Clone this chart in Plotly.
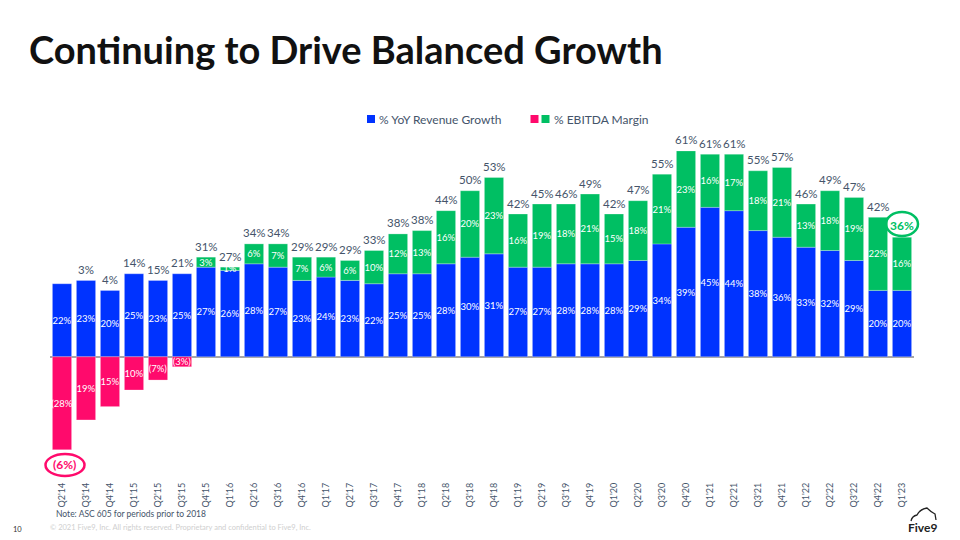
import plotly.graph_objects as go

# ---------------- data ----------------
categories = ["Q2'14", "Q3'14", "Q4'14",
              "Q1'15", "Q2'15", "Q3'15", "Q4'15",
              "Q1'16", "Q2'16", "Q3'16", "Q4'16",
              "Q1'17", "Q2'17", "Q3'17", "Q4'17",
              "Q1'18", "Q2'18", "Q3'18", "Q4'18",
              "Q1'19", "Q2'19", "Q3'19", "Q4'19",
              "Q1'20", "Q2'20", "Q3'20", "Q4'20",
              "Q1'21", "Q2'21", "Q3'21", "Q4'21",
              "Q1'22", "Q2'22", "Q3'22", "Q4'22",
              "Q1'23"]

revenue_growth = [22, 23, 20,
                  25, 23, 25, 27,
                  26, 28, 27, 23,
                  24, 23, 22, 25,
                  25, 28, 30, 31,
                  27, 27, 28, 28,
                  28, 29, 34, 39,
                  45, 44, 38, 36,
                  33, 32, 29, 20,
                  20]

ebitda_margin = [-28, -19, -15,
                 -10, -7, -3, 3,
                 1, 6, 7, 7,
                 6, 6, 10, 12,
                 13, 16, 20, 23,
                 16, 19, 18, 21,
                 15, 18, 21, 23,
                 16, 17, 18, 21,
                 13, 18, 19, 22,
                 16]

ebitda_labels = ["(28%", "19%", "15%",
                 "10%", "(7%)", "(3%)", "3%",
                 "1%", "6%", "7%", "7%",
                 "6%", "6%", "10%", "12%",
                 "13%", "16%", "20%", "23%",
                 "16%", "19%", "18%", "21%",
                 "15%", "18%", "21%", "23%",
                 "16%", "17%", "18%", "21%",
                 "13%", "18%", "19%", "22%",
                 "16%"]

total_labels = ["(6%)", "3%", "4%",
                "14%", "15%", "21%", "31%",
                "27%", "34%", "34%", "29%",
                "29%", "29%", "33%", "38%",
                "38%", "44%", "50%", "53%",
                "42%", "45%", "46%", "49%",
                "42%", "47%", "55%", "61%",
                "61%", "61%", "55%", "57%",
                "46%", "49%", "47%", "42%",
                "36%"]

# ---------------- style ----------------
BLUE = "#0033FF"
GREEN = "#00BF63"
PINK = "#FF0A6C"
TEXT = "#44546A"
FONT = "Lato, 'Open Sans', sans-serif"

W, H = 960, 540
ML, MR, MT, MB = 50, 46, 124, 60
Y_RANGE = [-37.1, 70.1]
N = len(categories)
X_RANGE = [-0.5, N - 0.5]
PW = W - ML - MR
PH = H - MT - MB


def px_x(px):
    return (px - ML) / PW


def px_y(py):
    return (H - MB - py) / PH


def cat_x(i):
    return (i + 0.5) / N


fig = go.Figure()

fig.add_trace(go.Bar(
    x=categories, y=revenue_growth,
    marker=dict(color=BLUE, line=dict(color="rgba(255,255,255,0.45)", width=0.6)),
    text=[f"{v}%" for v in revenue_growth],
    textposition="inside", insidetextanchor="middle", textangle=0,
    textfont=dict(color="white", size=9.5, family=FONT),
    showlegend=False, hoverinfo="skip",
))

fig.add_trace(go.Bar(
    x=categories, y=ebitda_margin,
    marker=dict(color=[PINK if v < 0 else GREEN for v in ebitda_margin],
                line=dict(color="rgba(255,255,255,0.45)", width=0.6)),
    text=ebitda_labels,
    textposition="inside", insidetextanchor="middle", textangle=0,
    textfont=dict(color="white", size=9.5, family=FONT),
    showlegend=False, hoverinfo="skip",
))

annotations = []
# totals above / below columns
for i, (cat, r, e, lab) in enumerate(zip(categories, revenue_growth, ebitda_margin, total_labels)):
    if r + e < 0:
        annotations.append(dict(x=cat, y=e, xref="x", yref="y", text=f"<b>{lab}</b>",
                                showarrow=False, yanchor="middle", yshift=-15, xshift=2,
                                font=dict(size=12, color=PINK, family=FONT)))
    elif i == N - 1:
        annotations.append(dict(x=cat, y=r + max(e, 0), xref="x", yref="y", text=f"<b>{lab}</b>",
                                showarrow=False, yanchor="middle", yshift=12,
                                font=dict(size=12, color=GREEN, family=FONT)))
    else:
        annotations.append(dict(x=cat, y=r + max(e, 0), xref="x", yref="y", text=lab,
                                showarrow=False, yanchor="middle", yshift=11,
                                font=dict(size=11.5, color=TEXT, family=FONT)))

shapes = []
# highlight ellipses
shapes.append(dict(type="circle", xref="paper", yref="paper",
                   x0=cat_x(0) - 19.5 / PW + 3 / PW, x1=cat_x(0) + 19.5 / PW + 3 / PW,
                   y0=px_y(476), y1=px_y(454),
                   line=dict(color=PINK, width=2.5)))
shapes.append(dict(type="circle", xref="paper", yref="paper",
                   x0=cat_x(N - 1) - 16 / PW, x1=cat_x(N - 1) + 16 / PW,
                   y0=px_y(236), y1=px_y(212),
                   line=dict(color=GREEN, width=2.5)))
# legend squares
for (x0, col) in [(367, BLUE), (530.5, PINK), (541.5, GREEN)]:
    shapes.append(dict(type="rect", xref="paper", yref="paper",
                       x0=px_x(x0), x1=px_x(x0 + 8), y0=px_y(123), y1=px_y(115),
                       fillcolor=col, line=dict(width=0)))
# Five9 logo cloud
cloud = [(911, 521), (912, 516), (917, 515), (920, 509), (927, 508), (931, 512), (935, 514), (936, 520)]
path = "M {},{}".format(px_x(cloud[0][0]), px_y(cloud[0][1]))
for j in range(1, len(cloud) - 1, 2):
    path += " Q {},{} {},{}".format(px_x(cloud[j][0]), px_y(cloud[j][1]),
                                    px_x(cloud[j + 1][0]), px_y(cloud[j + 1][1]))
path += " L {},{}".format(px_x(cloud[-1][0]), px_y(cloud[-1][1]))
shapes.append(dict(type="path", xref="paper", yref="paper", path=path,
                   line=dict(color="#222222", width=1.3)))

annotations += [
    dict(text="<b>Continuing to Drive Balanced Growth</b>", xref="paper", yref="paper",
         x=px_x(27), y=px_y(49), xanchor="left", yanchor="middle", showarrow=False,
         font=dict(size=38, color="#111111", family=FONT)),
    dict(text="% YoY Revenue Growth", xref="paper", yref="paper",
         x=px_x(377), y=px_y(120), xanchor="left", yanchor="middle", showarrow=False,
         font=dict(size=12, color=TEXT, family=FONT)),
    dict(text="% EBITDA Margin", xref="paper", yref="paper",
         x=px_x(551.5), y=px_y(120), xanchor="left", yanchor="middle", showarrow=False,
         font=dict(size=12, color=TEXT, family=FONT)),
    dict(text="Note: ASC 605 for periods prior to 2018", xref="paper", yref="paper",
         x=px_x(54), y=px_y(514), xanchor="left", yanchor="middle", showarrow=False,
         font=dict(size=8.5, color=TEXT, family=FONT)),
    dict(text="© 2021 Five9, Inc. All rights reserved. Proprietary and confidential to Five9, Inc.",
         xref="paper", yref="paper",
         x=px_x(48), y=px_y(527), xanchor="left", yanchor="middle", showarrow=False,
         font=dict(size=7.5, color="#CFCFCF", family=FONT)),
    dict(text="10", xref="paper", yref="paper",
         x=px_x(11), y=px_y(529), xanchor="left", yanchor="middle", showarrow=False,
         font=dict(size=7.5, color="#333333", family=FONT)),
    dict(text="<b>Five9</b>", xref="paper", yref="paper",
         x=px_x(922), y=px_y(527), xanchor="center", yanchor="middle", showarrow=False,
         font=dict(size=12, color="#222222", family=FONT)),
]

fig.update_layout(
    width=W, height=H,
    margin=dict(l=ML, r=MR, t=MT, b=MB, pad=0),
    paper_bgcolor="white", plot_bgcolor="white",
    barmode="relative", bargap=0.2,
    uniformtext=dict(minsize=9.5, mode="show"),
    font=dict(family=FONT, color=TEXT),
    xaxis=dict(type="category", range=X_RANGE, autorange=False, tickangle=-90,
               showgrid=False, showline=False,
               ticks="", tickfont=dict(size=9, color=TEXT, family=FONT),
               fixedrange=True),
    yaxis=dict(range=Y_RANGE, autorange=False, showgrid=False, showticklabels=False,
               zeroline=True, zerolinecolor="#A6A6A6", zerolinewidth=1.5, showline=False,
               fixedrange=True),
    shapes=shapes, annotations=annotations,
    showlegend=False,
)

fig.write_html("out.html", config={"displayModeBar": False})
